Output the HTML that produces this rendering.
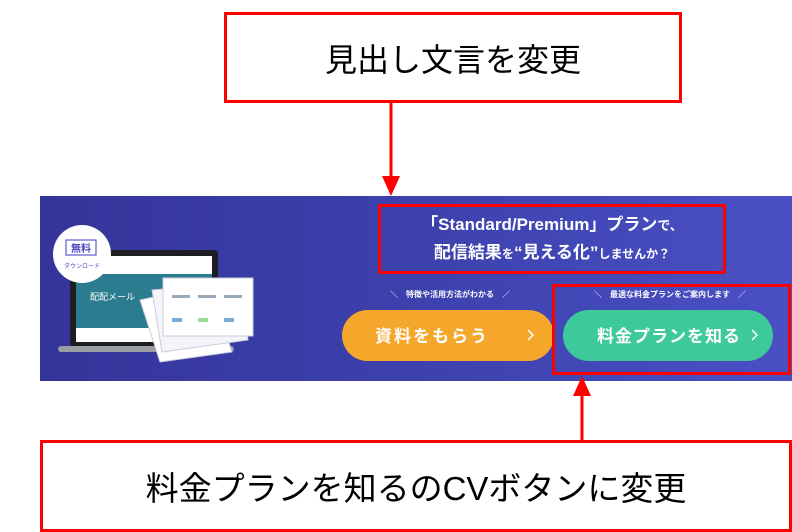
<!DOCTYPE html>
<html><head><meta charset="utf-8"><style>
html,body{margin:0;padding:0;background:#fff;}
body{width:792px;height:532px;position:relative;overflow:hidden;font-family:"Liberation Sans","Noto Sans CJK JP",sans-serif;}
.abs{position:absolute;}
.box{position:absolute;border:3px solid #f00;box-sizing:border-box;background:#fff;display:flex;align-items:center;justify-content:center;color:#000;}
.w{color:#fff;font-weight:bold;}
</style></head><body>
<div class="box" style="left:224px;top:12px;width:458px;height:91px;font-size:32px;font-family:'Noto Sans CJK JP',sans-serif;">見出し文言を変更</div>
<div class="abs" style="left:40px;top:196px;width:752px;height:185px;background:linear-gradient(90deg,#34359a 0%,#3d41ad 50%,#4a50c4 100%);"></div>
<svg class="abs" style="left:0;top:0" width="792" height="532">
 <rect x="70" y="250" width="148" height="97" rx="4" fill="#1d1d22"/>
 <rect x="76" y="256" width="136" height="86" fill="#fff"/>
 <rect x="76" y="274" width="136" height="54" fill="#2b7c8e"/>
 <rect x="58" y="346" width="176" height="6" rx="3" fill="#9a9ca3"/>
 <text x="90" y="300" font-size="9" fill="#fff" font-family="Noto Sans CJK JP">配配メール</text>
 <polygon points="140,300 210,285 232,352 160,362" fill="#fff" stroke="#ccd" stroke-width="1"/>
 <polygon points="152,290 240,282 248,340 162,352" fill="#f4f5fa" stroke="#ccd" stroke-width="1"/>
 <rect x="163" y="278" width="90" height="58" fill="#fff" stroke="#ccd"/>
 <rect x="172" y="295" width="18" height="3" fill="#9ab"/><rect x="198" y="295" width="18" height="3" fill="#9ab"/><rect x="224" y="295" width="18" height="3" fill="#9ab"/>
 <rect x="172" y="318" width="10" height="4" fill="#7ad"/><rect x="198" y="318" width="10" height="4" fill="#9d9"/><rect x="224" y="318" width="10" height="4" fill="#7ad"/>
 <circle cx="82" cy="254" r="29" fill="#fff"/>
 <rect x="66" y="240" width="30" height="15" fill="none" stroke="#5a5cd0" stroke-width="1.2"/>
 <text x="81" y="252" font-size="10" fill="#4a4cc0" text-anchor="middle" font-weight="bold" font-family="Noto Sans CJK JP">無料</text>
 <text x="82" y="268" font-size="6" fill="#4a4cc0" text-anchor="middle" font-family="Noto Sans CJK JP">ダウンロード</text>
 <rect x="342" y="310" width="212" height="51" rx="25.5" fill="#f4a72a"/>
 <rect x="563" y="310" width="210" height="51" rx="25.5" fill="#3ec99a"/>
 <polyline points="528,330 533,335 528,340" fill="none" stroke="#fff" stroke-width="1.5"/>
 <polyline points="752,330 757,335 752,340" fill="none" stroke="#fff" stroke-width="1.5"/>
 <line x1="391" y1="103" x2="391" y2="178" stroke="#f00" stroke-width="3"/>
 <polygon points="382,176 400,176 391,196" fill="#f00"/>
 <line x1="582" y1="440" x2="582" y2="394" stroke="#f00" stroke-width="3"/>
 <polygon points="573,396 591,396 582,376" fill="#f00"/>
</svg>
<div class="abs w" style="left:378px;top:211px;width:348px;text-align:center;font-size:17px;line-height:27px;">「Standard/Premium」プラン<span style="font-size:13px">で、</span><br>配信結果<span style="font-size:12px">を</span>“見える化”<span style="font-size:12px">しませんか？</span></div>
<div class="abs w" style="left:370px;top:289px;width:160px;text-align:center;font-size:8px;">＼　特徴や活用方法がわかる　／</div>
<div class="abs w" style="left:570px;top:289px;width:200px;text-align:center;font-size:8px;">＼　最適な料金プランをご案内します　／</div>
<div class="abs w" style="left:342px;top:322px;width:180px;text-align:center;font-size:17px;letter-spacing:2px;">資料をもらう</div>
<div class="abs w" style="left:585px;top:322px;width:168px;text-align:center;font-size:17px;letter-spacing:1px;">料金プランを知る</div>
<div class="abs" style="left:378px;top:204px;width:348px;height:70px;border:3px solid #f00;box-sizing:border-box;"></div>
<div class="abs" style="left:552px;top:284px;width:239px;height:91px;border:3px solid #f00;box-sizing:border-box;"></div>
<div class="box" style="left:40px;top:440px;width:752px;height:92px;font-size:33px;">料金プランを知るのCVボタンに変更</div>
</body></html>
